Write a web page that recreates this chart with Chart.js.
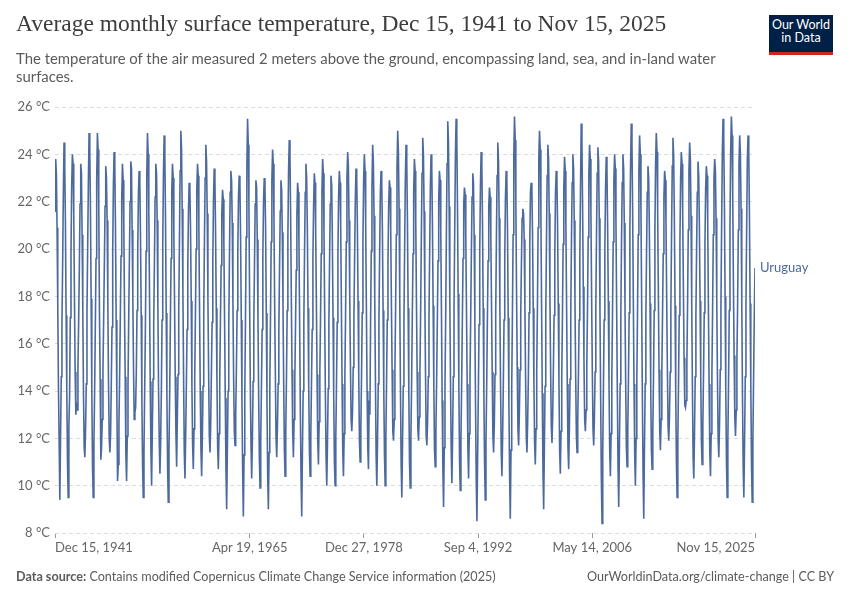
<!DOCTYPE html>
<html><head><meta charset="utf-8">
<script src="https://cdn.jsdelivr.net/npm/chart.js@4"></script>
<style>
body{margin:0;width:850px;height:600px;background:#fff;font-family:Lato,sans-serif;position:relative;overflow:hidden}
#wrap{position:absolute;left:0;top:0;width:850px;height:600px}
#title{position:absolute;left:16px;top:10px;font-family:"Liberation Serif",serif;font-size:23.5px;color:#3d3d3d;white-space:nowrap;z-index:2}
#sub{position:absolute;left:16px;top:49px;font-size:14.9px;line-height:18px;color:#5b5b5b;z-index:2}
#logo{position:absolute;left:769px;top:15px;width:64px;height:34px;background:#002147;border-bottom:3px solid #ce261e;color:#fff;font-size:12.5px;line-height:13px;text-align:center;padding-top:3px;box-sizing:content-box;z-index:2}
#foot-l{position:absolute;left:16px;top:569px;font-size:12.6px;color:#5b5b5b;z-index:2}
#foot-r{position:absolute;right:16px;top:569px;font-size:12.6px;color:#5b5b5b;z-index:2}
</style></head><body>
<div id="title">Average monthly surface temperature, Dec 15, 1941 to Nov 15, 2025</div>
<div id="sub">The temperature of the air measured 2 meters above the ground, encompassing land, sea, and in-land water<br>surfaces.</div>
<div id="logo">Our World<br>in Data</div>
<div id="foot-l"><b>Data source:</b> Contains modified Copernicus Climate Change Service information (2025)</div>
<div id="foot-r">OurWorldinData.org/climate-change | CC BY</div>
<div id="wrap"><canvas id="c"></canvas></div>
<script>
const entity = "Uruguay";
const startYear = 1941, startMonth = 11; // Dec 1941
const tickDates = [[1941,11,15],[1965,3,19],[1978,11,27],[1992,8,4],[2006,4,14],[2025,10,15]];
const tickLabels = ["Dec 15, 1941","Apr 19, 1965","Dec 27, 1978","Sep 4, 1992","May 14, 2006","Nov 15, 2025"];
const yTicks = [8,10,12,14,16,18,20,22,24,26];

const temps1940s = [21.6,
23.8,23.1,20.9,17.6,14.2,11.8,9.4,12.0,14.6,16.8,19.4,22.3,
24.5,23.4,21.3,17.2,14.1,11.0,9.5,12.5,13.8,17.1,19.8,22.6,
24.0,23.6,21.5,18.0,14.8,13.0,13.4,13.2,15.1,16.9,19.2,21.9,
23.6,23.2,20.6,17.4,13.9,11.6,11.2,12.4,14.3,17.3,20.1,22.8,
24.9,24.1,21.8,17.9,14.0,10.8,9.5,11.7,14.0,16.6,19.6,22.9,
24.9,24.2,21.9,17.3,14.5,11.1,11.6,12.8,14.9,17.0,19.3,21.8,
23.5,23.0,21.2,17.8,14.3,12.0,11.4,12.2,14.4,16.7,19.9,22.7,
24.1,23.5,21.0,17.0,13.8,10.2,10.9,12.6,14.7,17.2,19.7,22.1];
const temps1950s = [
23.6,22.9,21.1,17.5,14.6,11.3,10.2,12.1,14.2,16.9,19.5,22.0,
23.7,23.4,20.8,17.9,15.0,12.8,13.1,13.3,14.8,17.4,19.8,22.3,
23.3,22.8,20.6,17.2,13.6,10.9,9.5,11.4,14.1,16.5,19.9,23.0,
24.9,24.0,21.6,18.1,14.4,11.5,10.0,12.3,14.5,16.8,19.4,22.2,
23.6,23.2,21.2,17.6,14.1,11.9,10.5,11.8,14.0,17.0,20.2,23.1,
24.8,23.9,21.4,17.3,13.9,10.8,9.3,11.5,13.9,16.9,19.6,22.4,
23.6,23.0,20.7,17.7,14.6,12.2,10.8,12.9,14.7,17.3,20.3,23.3,
25.0,24.2,21.7,18.2,14.7,11.4,10.3,12.1,14.3,16.6,19.2,21.6,
22.8,22.5,20.9,17.8,14.2,11.7,10.7,12.4,14.6,17.1,20.0,22.5,
23.6,23.1,21.0,17.4,14.0,11.5,10.4,12.0,14.2,17.2,20.4,23.0];
const temps1960s = [
24.4,23.7,21.5,17.9,14.9,12.1,11.4,12.6,14.8,16.9,19.5,22.1,
23.4,22.9,20.8,17.5,14.5,11.6,10.7,12.2,14.5,17.0,19.3,21.5,
22.5,22.1,20.2,16.9,13.7,10.6,9.0,11.6,14.0,16.7,19.8,22.4,
23.3,22.9,21.1,17.8,14.6,12.3,11.7,13.0,15.0,17.4,20.0,22.2,
23.1,22.7,20.5,17.0,13.5,10.5,8.7,11.3,13.8,16.9,20.5,23.4,
25.5,24.4,21.9,17.8,14.3,11.7,10.3,12.0,14.4,16.8,19.4,21.9,
22.9,22.6,20.4,17.1,13.8,11.2,9.9,11.9,14.2,16.6,19.7,22.0,
23.0,22.6,20.9,17.3,13.6,10.4,9.0,11.4,14.1,17.0,20.3,22.9,
24.2,23.6,21.3,17.7,14.8,12.0,11.2,12.5,14.3,16.5,19.2,21.6,
22.9,22.5,20.7,17.6,14.4,11.5,10.4,12.3,14.6,17.4,20.5,23.3];
const temps1970s = [
24.6,23.9,21.5,18.0,14.9,12.2,11.2,12.8,14.5,16.7,19.1,21.4,
22.8,22.4,20.3,16.8,13.2,10.3,8.7,11.5,14.0,16.9,19.9,22.4,
23.6,23.0,21.0,17.5,14.2,11.5,10.4,12.1,14.4,16.6,19.6,21.8,
23.2,22.8,20.9,17.9,14.7,11.9,10.9,12.7,14.8,17.1,19.8,22.4,
23.8,23.2,20.8,17.2,13.9,11.2,10.0,11.8,14.1,16.8,19.5,21.9,
23.1,22.7,20.6,17.1,13.8,11.0,10.0,12.0,14.4,16.9,19.7,22.2,
23.3,22.8,21.0,17.6,14.3,11.4,10.4,12.2,14.6,17.2,20.3,23.0,
24.1,23.5,21.2,18.1,15.2,12.8,12.3,13.1,15.0,17.0,19.6,22.0,
23.4,23.0,21.1,17.8,14.6,11.9,11.0,12.4,14.7,17.3,20.4,22.9,
24.0,23.3,21.0,17.5,14.0,11.6,10.7,13.6,13.0,16.8,19.9,22.6];
const temps1980s = [
24.4,23.6,21.4,17.9,14.5,11.2,10.0,11.9,14.3,16.9,19.8,22.3,
23.3,22.8,20.9,17.4,14.1,11.3,10.0,12.0,14.5,17.0,19.4,21.8,
22.9,22.6,20.8,17.6,14.9,12.3,11.9,12.8,14.9,17.5,20.6,23.4,
25.0,24.1,21.7,17.9,14.2,10.9,9.5,11.8,14.2,16.9,20.1,22.9,
24.4,23.7,21.3,17.5,14.0,11.0,9.9,12.0,14.4,17.1,19.8,22.4,
23.8,23.3,21.2,17.8,14.8,12.4,11.9,12.9,14.9,17.3,20.4,23.2,
24.7,24.0,21.6,18.2,14.9,12.1,11.7,12.7,14.6,17.0,19.9,22.6,
24.0,23.4,21.1,17.6,14.3,11.5,10.8,12.3,14.4,16.8,19.5,22.0,
23.3,22.9,20.7,17.2,13.6,10.7,9.1,11.6,14.2,17.0,20.6,23.6,
25.4,24.5,21.8,17.9,14.4,11.5,10.1,12.1,14.6,17.4,20.7,23.8];
const temps1990s = [
25.5,24.6,22.0,18.1,14.2,11.1,9.8,11.9,14.3,16.9,19.6,21.9,
22.6,22.3,20.5,17.4,14.3,11.6,10.3,12.2,14.6,17.0,19.8,22.2,
23.2,22.8,20.6,17.0,13.4,10.2,8.5,11.2,13.9,16.8,19.9,22.6,
24.1,23.5,21.2,17.5,13.9,10.9,9.4,11.8,14.2,16.9,19.5,21.8,
22.6,22.2,20.6,17.7,14.8,12.1,11.4,12.6,14.7,17.2,20.4,23.1,
24.5,23.7,21.3,17.6,14.3,11.4,10.4,12.1,14.4,17.0,19.6,22.1,
23.3,22.9,20.8,17.1,13.5,10.4,8.6,11.5,14.1,17.1,20.6,23.9,
25.6,24.6,22.0,18.1,15.0,12.4,11.7,13.0,14.9,17.2,19.4,21.3,
21.7,21.5,20.4,17.6,14.7,12.1,11.4,12.7,14.6,17.3,20.2,22.4,
22.8,22.5,20.7,17.5,14.4,11.8,10.9,12.4,14.8,17.4,20.9,23.8];
const temps2000s = [
25.0,24.2,21.6,17.6,13.9,10.6,9.0,11.6,14.2,17.1,20.3,23.1,
24.4,23.8,21.5,18.0,15.0,12.5,11.8,13.0,15.0,17.2,19.8,22.3,
23.3,22.9,21.1,17.7,14.4,11.5,10.5,12.3,14.6,17.1,20.2,22.6,
23.9,23.3,21.0,17.6,14.3,11.6,10.7,12.4,14.5,17.3,20.4,22.8,
24.0,23.4,21.2,17.9,14.8,12.2,11.4,12.7,14.7,17.0,19.7,22.6,
25.3,24.4,21.9,18.4,15.3,12.8,12.3,13.2,15.0,17.3,20.5,23.1,
24.4,23.8,21.6,18.0,14.9,12.4,11.7,12.9,14.8,17.4,20.6,23.2,
24.3,23.7,21.3,17.4,13.8,10.3,8.4,11.4,14.2,17.0,19.9,22.5,
23.9,23.3,21.1,17.8,14.4,11.5,10.4,12.2,14.5,17.2,20.3,22.9,
24.0,23.4,21.2,17.5,14.0,10.8,9.1,11.7,14.3,17.1,20.4,22.8];
const temps2010s = [
24.0,23.4,21.1,17.6,14.4,11.6,10.8,12.3,14.6,17.3,20.7,23.5,
25.3,24.4,21.8,17.9,14.3,11.3,10.0,12.0,14.4,17.2,20.6,23.3,
24.8,24.0,21.6,17.6,13.8,10.5,8.6,11.6,14.3,17.1,19.9,22.4,
23.5,23.0,21.0,17.7,14.3,11.5,10.7,12.2,14.6,17.4,20.8,23.6,
24.9,24.1,21.7,18.2,14.9,12.3,11.5,12.8,14.9,17.2,19.8,22.2,
23.3,22.9,21.2,17.9,15.0,12.5,11.9,12.9,14.8,17.4,20.7,23.5,
24.7,23.9,21.4,17.6,13.9,10.9,9.5,11.9,14.4,17.2,20.3,23.0,
24.1,23.6,21.6,18.4,15.4,13.4,13.3,13.6,15.2,17.6,20.8,23.3,
24.5,23.8,21.4,17.7,14.2,11.2,10.3,12.2,14.6,17.1,20.0,22.4,
23.7,23.1,21.1,17.8,14.6,11.8,10.9,12.5,14.8,17.3,20.2,22.5];
const temps2020s = [
23.5,23.1,21.2,17.6,14.3,11.4,10.4,12.2,14.7,17.4,20.6,23.0,
23.8,23.3,21.3,17.9,14.7,12.0,11.2,12.6,14.9,17.5,21.0,24.0,
25.5,24.7,22.1,18.0,14.1,11.0,9.5,11.9,14.5,17.4,20.9,24.1,
25.6,24.8,22.3,18.6,15.5,12.9,12.1,13.2,15.3,17.6,20.8,23.6,
24.8,24.0,21.7,17.8,13.9,10.8,9.5,11.8,14.6,17.5,20.9,23.8,
24.8,24.1,21.6,17.7,14.2,10.9,9.3,11.9,14.6,17.2,19.2];

const temps = [].concat(temps1940s, temps1950s, temps1960s, temps1970s, temps1980s, temps1990s, temps2000s, temps2010s, temps2020s);
const points = temps.map((v, i) => ({x: Date.UTC(startYear, startMonth + i, 15), y: v}));
const tickVals = tickDates.map(d => Date.UTC(d[0], d[1], d[2]));

const lineColor = '#4C6A9C';
const labelPlugin = {
  id: 'endLabel',
  afterDatasetsDraw(chart) {
    const meta = chart.getDatasetMeta(0);
    const last = meta.data[meta.data.length - 1];
    const ctx = chart.ctx;
    ctx.save();
    ctx.font = '13px Lato';
    ctx.fillStyle = lineColor;
    ctx.textBaseline = 'middle';
    ctx.fillText(entity, chart.chartArea.right + 5, last.y);
    ctx.restore();
  }
};

new Chart(document.getElementById('c'), {
  type: 'line',
  data: { datasets: [{ data: points, borderColor: lineColor, borderWidth: 1.6, pointRadius: 0, tension: 0, fill: false }] },
  options: {
    responsive: true, maintainAspectRatio: false, animation: false,
    layout: { padding: { left: 15, right: 95, top: 107, bottom: 0 } },
    plugins: { legend: { display: false }, tooltip: { enabled: false } },
    scales: {
      x: {
        type: 'linear',
        min: tickVals[0], max: tickVals[tickVals.length - 1],
        afterBuildTicks: s => { s.ticks = tickVals.map(v => ({ value: v })); },
        afterFit: s => { s.height = 67; },
        grid: { drawOnChartArea: false, drawTicks: true, tickLength: 5, color: '#999' },
        border: { display: false },
        ticks: { align: 'inner', autoSkip: false, maxRotation: 0, padding: 2, color: '#666', font: { family: 'Lato', size: 13 },
          callback: (v, i) => tickLabels[i] }
      },
      y: {
        min: yTicks[0], max: yTicks[yTicks.length - 1],
        afterBuildTicks: s => { s.ticks = yTicks.map(v => ({ value: v })); },
        afterFit: s => { s.width = 40; },
        grid: { color: '#dcdcdc', drawTicks: false, lineWidth: 1 },
        border: { display: false, dash: [4, 3] },
        ticks: { padding: 5, color: '#666', font: { family: 'Lato', size: 13 }, callback: v => v + ' °C' }
      }
    }
  },
  plugins: [labelPlugin]
});
</script>
</body></html>
